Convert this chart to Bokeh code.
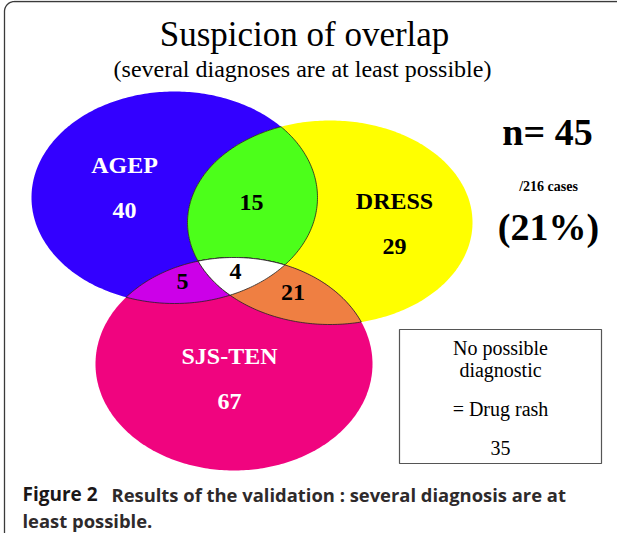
import numpy as np
from bokeh.plotting import figure
from bokeh.models import Range1d
from bokeh.core.properties import value
from bokeh.embed import file_html
from bokeh.resources import INLINE

# ---------------- data ----------------
set_names = ["AGEP", "DRESS", "SJS-TEN"]
only_counts = [40, 29, 67]
pair_names = ["AGEP & DRESS", "AGEP & SJS-TEN", "DRESS & SJS-TEN"]
pair_counts = [15, 5, 21]
triple_count = 4
no_diag_count = 35
total_cases = 216
n_overlap = sum(pair_counts) + triple_count          # 45
pct_overlap = round(100 * n_overlap / total_cases)   # 21

# ---------------- geometry / style (pixel coordinates) ----------------
ell_center = [(182.0, 205.0), (337.5, 230.0), (241.5, 371.5)]
ell_radii = [(143.0, 106.0), (142.5, 102.0), (138.5, 106.5)]
set_colors = ["#3300ff", "#ffff00", "#f0047f"]
pair_idx = [(0, 1), (0, 2), (1, 2)]
pair_colors = ["#4cff1a", "#cc00e8", "#ef7f42"]
triple_color = "#ffffff"

name_pos = [(132, 181), (402, 217), (237, 372)]
only_pos = [(132, 226), (402, 262), (237, 417)]
name_colors = ["white", "black", "white"]
pair_pos = [(259, 218), (190, 297), (300.5, 308)]
triple_pos = (243, 287)

SERIF = value("Liberation Serif")
SANS = value("Open Sans")
K_SERIF = 0.34   # baseline -> vertical middle offset (em)
K_SANS = 0.37


def ellipse_poly(c, r, n=360):
    t = np.linspace(0, 2 * np.pi, n, endpoint=False)
    return [(c[0] + r[0] * np.cos(a), c[1] + r[1] * np.sin(a)) for a in t]


def clip(subject, clipper):
    area = sum(clipper[i][0] * clipper[(i + 1) % len(clipper)][1]
               - clipper[(i + 1) % len(clipper)][0] * clipper[i][1]
               for i in range(len(clipper)))
    s = 1.0 if area > 0 else -1.0
    out = list(subject)
    n = len(clipper)
    for i in range(n):
        a = clipper[i]
        b = clipper[(i + 1) % n]
        inp = out
        out = []
        if not inp:
            break

        def inside(p):
            return s * ((b[0] - a[0]) * (p[1] - a[1]) - (b[1] - a[1]) * (p[0] - a[0])) >= 0

        def inter(p, q):
            x1, y1 = p
            x2, y2 = q
            x3, y3 = a
            x4, y4 = b
            den = (x1 - x2) * (y3 - y4) - (y1 - y2) * (x3 - x4)
            if abs(den) < 1e-12:
                return q
            t = ((x1 - x3) * (y3 - y4) - (y1 - y3) * (x3 - x4)) / den
            return (x1 + t * (x2 - x1), y1 + t * (y2 - y1))

        prev = inp[-1]
        for cur in inp:
            if inside(cur):
                if not inside(prev):
                    out.append(inter(prev, cur))
                out.append(cur)
            elif inside(prev):
                out.append(inter(prev, cur))
            prev = cur
    return out


polys = [ellipse_poly(c, r) for c, r in zip(ell_center, ell_radii)]

p = figure(width=617, height=533, x_range=Range1d(8, 625), y_range=Range1d(541, 8),
           output_backend="svg", toolbar_location=None, min_border=0)
p.axis.visible = False
p.grid.visible = False
p.outline_line_color = None
p.background_fill_color = "white"
p.border_fill_color = "white"


def txt(xs, ys, texts, size, font=SERIF, k=K_SERIF, color="black", style="normal", align="center"):
    p.text(x=list(xs), y=[y - k * size for y in ys], text=list(texts), text_color=color,
           text_font=font, text_font_style=style, text_font_size=f"{size}px",
           text_align=align, text_baseline="middle")


# frame with rounded corner
rad = 10
ang = np.linspace(np.pi, 1.5 * np.pi, 20)
fx = [12] + list(12 + rad + rad * np.cos(ang)) + [700]
fy = [600] + list(9 + rad + rad * np.sin(ang)) + [9]
p.line(fx, fy, line_color="#3a3a3a", line_width=1.3)

# full sets
for poly, col in zip(polys, set_colors):
    p.patch([q[0] for q in poly], [q[1] for q in poly], fill_color=col, line_color=None)

# pairwise intersections
for (i, j), col in zip(pair_idx, pair_colors):
    reg = clip(polys[i], polys[j])
    p.patch([q[0] for q in reg], [q[1] for q in reg], fill_color=col,
            line_color="#222222", line_width=0.8)

# triple intersection
reg = clip(clip(polys[0], polys[1]), polys[2])
p.patch([q[0] for q in reg], [q[1] for q in reg], fill_color=triple_color,
        line_color="#222222", line_width=0.8)

# set labels and counts
txt([q[0] for q in name_pos], [q[1] for q in name_pos], set_names, 24,
    color=name_colors, style="bold")
txt([q[0] for q in only_pos], [q[1] for q in only_pos], [str(v) for v in only_counts], 24,
    color=name_colors, style="bold")
txt([q[0] for q in pair_pos] + [triple_pos[0]], [q[1] for q in pair_pos] + [triple_pos[1]],
    [str(v) for v in pair_counts] + [str(triple_count)], 24, style="bold")

# titles
txt([312], [54], ["Suspicion of overlap"], 35)
txt([310], [85], ["(several diagnoses are at least possible)"], 24)

# n = 45 block
txt([555], [152], [f"n= {n_overlap}"], 38, style="bold")
txt([556], [199], [f"/{total_cases} cases"], 14, style="bold")
txt([556], [247], [f"({pct_overlap}%)"], 38, style="bold")

# no diagnosis box
p.quad(left=[407], right=[609], top=[337], bottom=[471], fill_color="white",
       line_color="#555555", line_width=1.2)
txt([508] * 4, [362, 384, 423, 462],
    ["No possible", "diagnostic", "= Drug rash", str(no_diag_count)], 20)

# caption
txt([30], [509], ["Figure 2"], 19, font=SANS, k=K_SANS, color="#1a1718", style="bold", align="left")
txt([119], [509], ["Results of the validation : several diagnosis are at"], 18.4, font=SANS, k=K_SANS,
    color="#2e2a2b", style="bold", align="left")
txt([30], [535], ["least possible."], 18.4, font=SANS, k=K_SANS, color="#2e2a2b", style="bold",
    align="left")

open("out.html", "w").write(file_html(p, INLINE))
